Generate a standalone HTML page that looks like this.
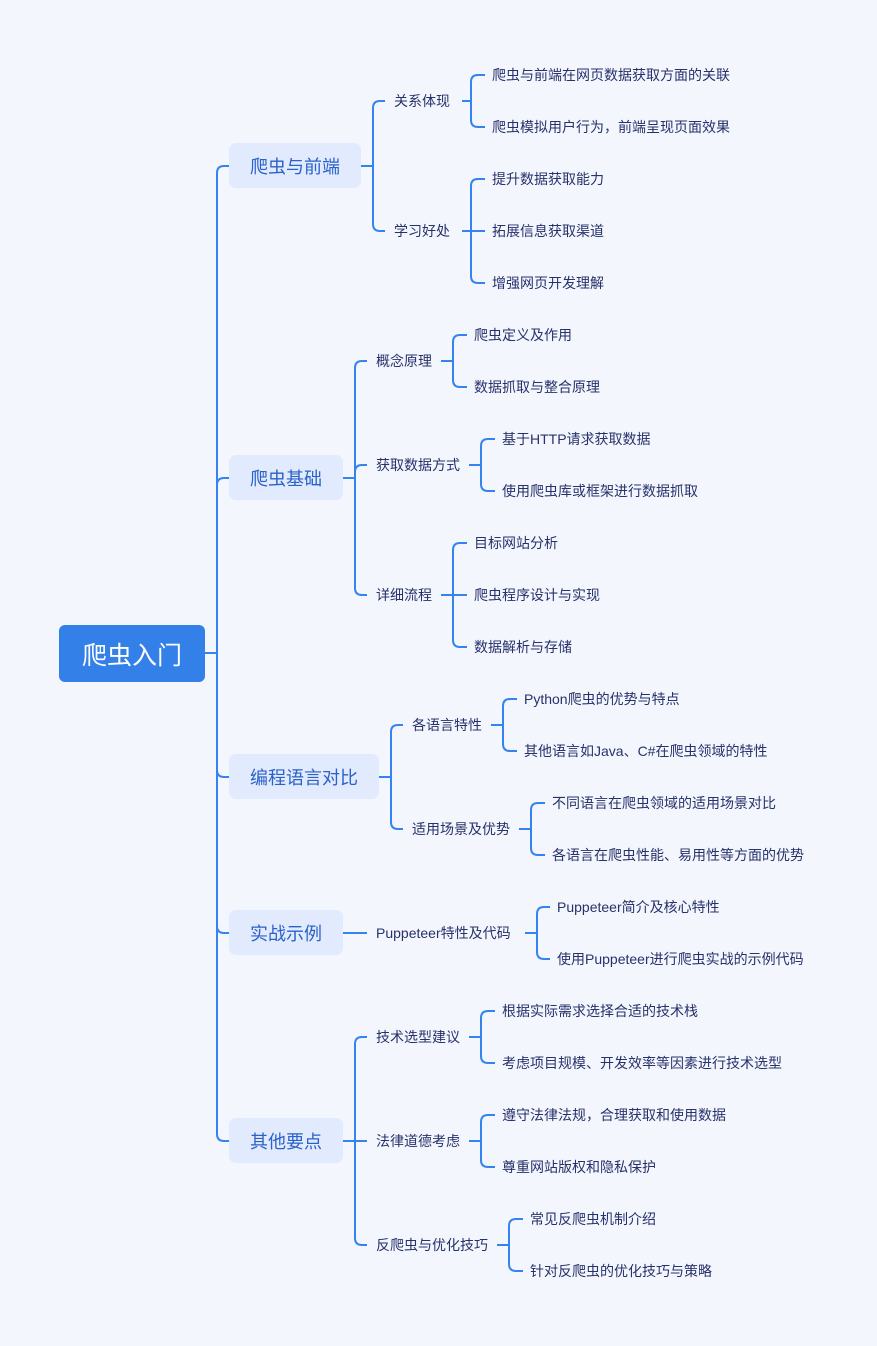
<!DOCTYPE html>
<html><head><meta charset="utf-8"><style>
body{margin:0;width:877px;height:1346px;background:#f4f6fe;position:relative;overflow:hidden;font-family:"Liberation Sans","Noto Sans CJK SC",sans-serif}
svg{position:absolute;left:0;top:0}
.t{position:absolute;font-size:14px;color:#27316a;line-height:20px;white-space:nowrap;transform:translateY(-10px)}
.b{position:absolute;background:#e2eafd;color:#2a62c9;font-size:18px;border-radius:7px;display:flex;align-items:center;justify-content:center}
.root{position:absolute;left:59px;top:625px;width:146px;height:57px;background:#3380e9;border-radius:6px;color:#fff;font-size:25px;display:flex;align-items:center;justify-content:center}
</style></head><body>
<svg width="877" height="1346" id="s"></svg>
<div class="root">爬虫入门</div>
<div class="b" style="left:229px;top:143px;width:132px;height:45px">爬虫与前端</div>
<div class="b" style="left:229px;top:455px;width:114px;height:45px">爬虫基础</div>
<div class="b" style="left:229px;top:754px;width:150px;height:45px">编程语言对比</div>
<div class="b" style="left:229px;top:910px;width:114px;height:45px">实战示例</div>
<div class="b" style="left:229px;top:1118px;width:114px;height:45px">其他要点</div>

<div class="t" style="left:394px;top:101px">关系体现</div>
<div class="t" style="left:394px;top:231px">学习好处</div>
<div class="t" style="left:492px;top:75px">爬虫与前端在网页数据获取方面的关联</div>
<div class="t" style="left:492px;top:127px">爬虫模拟用户行为，前端呈现页面效果</div>
<div class="t" style="left:492px;top:179px">提升数据获取能力</div>
<div class="t" style="left:492px;top:231px">拓展信息获取渠道</div>
<div class="t" style="left:492px;top:283px">增强网页开发理解</div>

<div class="t" style="left:376px;top:361px">概念原理</div>
<div class="t" style="left:376px;top:465px">获取数据方式</div>
<div class="t" style="left:376px;top:595px">详细流程</div>
<div class="t" style="left:474px;top:335px">爬虫定义及作用</div>
<div class="t" style="left:474px;top:387px">数据抓取与整合原理</div>
<div class="t" style="left:502px;top:439px">基于HTTP请求获取数据</div>
<div class="t" style="left:502px;top:491px">使用爬虫库或框架进行数据抓取</div>
<div class="t" style="left:474px;top:543px">目标网站分析</div>
<div class="t" style="left:474px;top:595px">爬虫程序设计与实现</div>
<div class="t" style="left:474px;top:647px">数据解析与存储</div>

<div class="t" style="left:412px;top:725px">各语言特性</div>
<div class="t" style="left:412px;top:829px">适用场景及优势</div>
<div class="t" style="left:524px;top:699px">Python爬虫的优势与特点</div>
<div class="t" style="left:524px;top:751px">其他语言如Java、C#在爬虫领域的特性</div>
<div class="t" style="left:552px;top:803px">不同语言在爬虫领域的适用场景对比</div>
<div class="t" style="left:552px;top:855px">各语言在爬虫性能、易用性等方面的优势</div>

<div class="t" style="left:376px;top:933px">Puppeteer特性及代码</div>
<div class="t" style="left:557px;top:907px">Puppeteer简介及核心特性</div>
<div class="t" style="left:557px;top:959px">使用Puppeteer进行爬虫实战的示例代码</div>

<div class="t" style="left:376px;top:1037px">技术选型建议</div>
<div class="t" style="left:376px;top:1141px">法律道德考虑</div>
<div class="t" style="left:376px;top:1245px">反爬虫与优化技巧</div>
<div class="t" style="left:502px;top:1011px">根据实际需求选择合适的技术栈</div>
<div class="t" style="left:502px;top:1063px">考虑项目规模、开发效率等因素进行技术选型</div>
<div class="t" style="left:502px;top:1115px">遵守法律法规，合理获取和使用数据</div>
<div class="t" style="left:502px;top:1167px">尊重网站版权和隐私保护</div>
<div class="t" style="left:530px;top:1219px">常见反爬虫机制介绍</div>
<div class="t" style="left:530px;top:1271px">针对反爬虫的优化技巧与策略</div>

<script>
var d="";
function br(px,py,sx,tx,ys){
 d+="M"+px+" "+py+"L"+sx+" "+py;
 var r=7;
 ys.forEach(function(cy){
  if(Math.abs(cy-py)<1){d+="M"+sx+" "+py+"L"+tx+" "+cy;return;}
  var s=cy>py?1:-1;
  d+="M"+sx+" "+py+"L"+sx+" "+(cy-s*r)+"Q"+sx+" "+cy+" "+(sx+r)+" "+cy+"L"+tx+" "+cy;
 });
}
br(205,653,217,229,[166,478,777,933,1141]);
br(361,166,373,385,[101,231]);
br(462,101,471,485,[75,127]);
br(462,231,471,485,[179,231,283]);
br(343,478,355,367,[361,465,595]);
br(441,361,453,467,[335,387]);
br(469,465,481,495,[439,491]);
br(441,595,453,467,[543,595,647]);
br(379,777,391,403,[725,829]);
br(491,725,503,517,[699,751]);
br(519,829,531,545,[803,855]);
br(343,933,355,367,[933]);
br(525,933,537,550,[907,959]);
br(343,1141,355,367,[1037,1141,1245]);
br(469,1037,481,495,[1011,1063]);
br(469,1141,481,495,[1115,1167]);
br(497,1245,509,523,[1219,1271]);
document.getElementById("s").innerHTML='<path d="'+d+'" fill="none" stroke="#3583ee" stroke-width="2"/>';
</script>
</body></html>
